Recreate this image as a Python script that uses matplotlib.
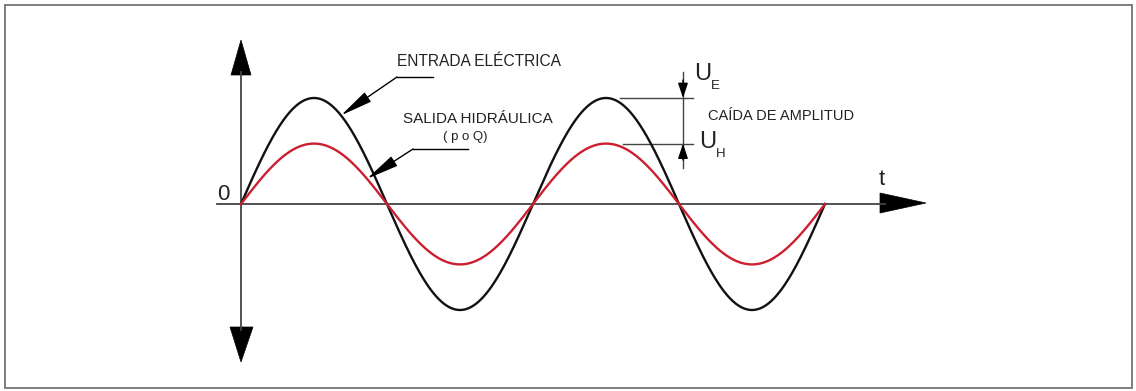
import numpy as np
import matplotlib.pyplot as plt
import matplotlib.transforms as mtransforms
from matplotlib.patches import Polygon

plt.rcParams['font.family'] = ['Liberation Sans', 'DejaVu Sans']

# Señales: entrada eléctrica y salida hidráulica (mismo periodo, distinta amplitud)
ciclos = 2
amp_entrada = 1.0
amp_salida = 0.57
etiquetas = {
    "entrada": "ENTRADA ELÉCTRICA",
    "salida": "SALIDA HIDRÁULICA",
    "salida_sub": "( p o Q)",
    "caida": "CAÍDA DE AMPLITUD",
}

W, H = 1136, 391
fig = plt.figure(figsize=(W / 100, H / 100), dpi=100)
ax = fig.add_axes([0, 0, 1, 1])

# escala del dibujo: origen y unidades en pixeles
X0, Y0 = 241, 204
XS = (825 - X0) / (ciclos * 2 * np.pi)
YS = 106
ax.set_xlim(-X0 / XS, (W - X0) / XS)
ax.set_ylim(-(H - Y0) / YS, Y0 / YS)
ax.axis('off')

# coordenadas en pixeles (y hacia abajo) para los elementos del esquema
px = mtransforms.Affine2D().scale(1 / W, -1 / H).translate(0, 1) + fig.transFigure


def dx(p):
    return (p - X0) / XS


gris = '#444444'
texto = '#222222'

# marco
fig.add_artist(plt.Rectangle((5, 5), 1127, 383, transform=px, fill=False,
                             edgecolor='#7d7d7d', linewidth=1.4))

# ejes con flechas
ax.plot([217, 885], [204, 204], color=gris, lw=1.3, transform=px)
ax.plot([241, 241], [72, 330], color=gris, lw=1.3, transform=px)
for tri in ([(231, 75), (251, 75), (241, 40)],
            [(230, 327), (253, 327), (241, 362)],
            [(880, 193), (880, 213), (926, 203)]):
    ax.add_patch(Polygon(tri, closed=True, facecolor='black', edgecolor='black',
                         lw=0.5, transform=px))
ax.text(217, 200, "0", fontsize=16, color=texto, transform=px, va='baseline')
ax.text(879, 185, "t", fontsize=16, color=texto, transform=px, va='baseline')

# curvas
t = np.linspace(0, ciclos * 2 * np.pi, 800)
ax.plot(t, amp_entrada * np.sin(t), color='#111111', lw=1.7, zorder=3)
ax.plot(t, amp_salida * np.sin(t), color='#cc1f2f', lw=1.7, zorder=4)

# indicadores con flecha
flecha = dict(arrowstyle='-|>,head_length=2.0,head_width=0.35', color='black',
              lw=1.0, mutation_scale=10, shrinkA=0, shrinkB=0)
ax.text(397, 66, etiquetas["entrada"], fontsize=11.2, color=texto, transform=px,
        va='baseline')
ax.plot([433, 397], [77, 77], color='black', lw=1.0, transform=px)
t_e = dx(341)
ax.annotate("", xy=(t_e, amp_entrada * np.sin(t_e)), xytext=(397, 77),
            textcoords=px, arrowprops=flecha, zorder=5)

ax.text(478, 123, etiquetas["salida"], fontsize=11, color=texto, transform=px,
        va='baseline', ha='center')
ax.text(465, 140, etiquetas["salida_sub"], fontsize=9.5, color=texto, transform=px,
        va='baseline', ha='center')
ax.plot([468, 413], [149, 149], color='black', lw=1.0, transform=px)
t_s = dx(367)
ax.annotate("", xy=(t_s, amp_salida * np.sin(t_s)), xytext=(413, 149),
            textcoords=px, arrowprops=flecha, zorder=5)

# caída de amplitud entre los picos
ax.plot([dx(620), dx(693)], [amp_entrada, amp_entrada], color=gris, lw=1.0)
ax.plot([dx(623), dx(693)], [amp_salida, amp_salida], color=gris, lw=1.0)
xv = dx(683)
ax.plot([xv, xv], [(Y0 - 72) / YS, (Y0 - 168) / YS], color=gris, lw=1.0)
cota = dict(arrowstyle='-|>,head_length=0.9,head_width=0.3', color='black',
            lw=1.0, mutation_scale=10, shrinkA=0, shrinkB=0)
ax.annotate("", xy=(xv, amp_entrada), xytext=(xv, (Y0 - 80) / YS), arrowprops=cota)
ax.annotate("", xy=(xv, amp_salida), xytext=(xv, (Y0 - 160) / YS), arrowprops=cota)

ax.text(694, 80, "U", fontsize=17, color=texto, transform=px, va='baseline')
ax.text(711, 89, "E", fontsize=9.5, color=texto, transform=px, va='baseline')
ax.text(699, 148, "U", fontsize=17, color=texto, transform=px, va='baseline')
ax.text(716, 157, "H", fontsize=9.5, color=texto, transform=px, va='baseline')
ax.text(708, 120, etiquetas["caida"], fontsize=10.5, color=texto, transform=px,
        va='baseline')

fig.savefig("out.png", dpi=100, facecolor='white')
